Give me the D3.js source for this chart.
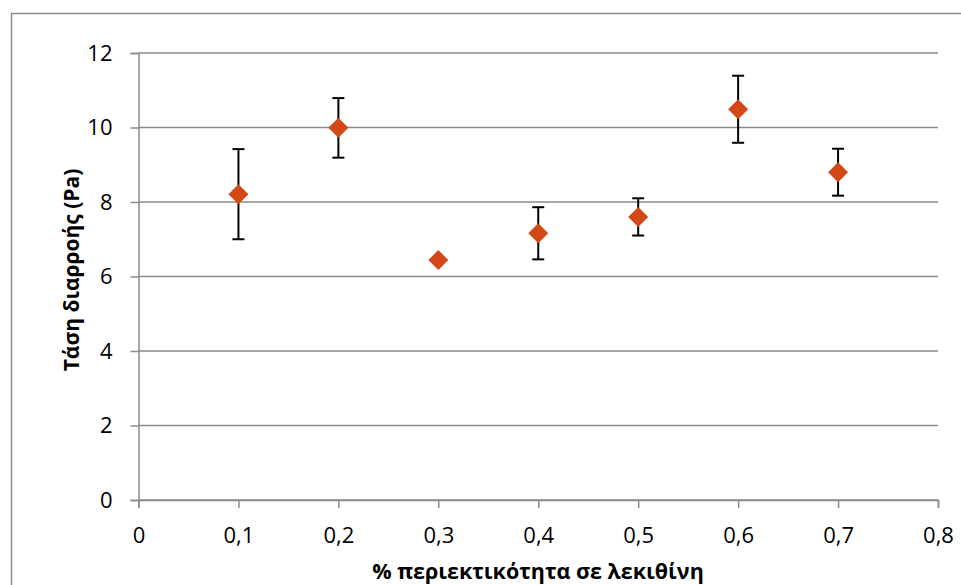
<!DOCTYPE html>
<html>
<head>
<meta charset="utf-8">
<script src="https://cdn.jsdelivr.net/npm/d3@7"></script>
<style>
  body { margin: 0; background: #fff; }
  text { font-family: "Open Sans", sans-serif; }
</style>
</head>
<body>
<div id="chart"></div>
<script>
// lecithin content (%) and yield stress (Pa) with error
var lecithin = [0.1, 0.2, 0.3, 0.4, 0.5, 0.6, 0.7];
var yieldStress = [8.21, 9.99, 6.44, 7.16, 7.60, 10.49, 8.80];
var stressErr = [1.21, 0.80, 0, 0.70, 0.50, 0.90, 0.63];
var xTicks = [0, 0.1, 0.2, 0.3, 0.4, 0.5, 0.6, 0.7, 0.8];
var yTicks = [0, 2, 4, 6, 8, 10, 12];

function main(){
  var W = 961, H = 585;
  var margin = {top: 53, right: 23, bottom: 85, left: 138.5},
      width = W - margin.left - margin.right,
      height = H - margin.top - margin.bottom;

  var root = d3.select("#chart").append("svg")
    .attr("width", W)
    .attr("height", H);

  // outer chart frame
  root.append("rect")
    .attr("x", 11.5).attr("y", 13.5)
    .attr("width", 960).attr("height", 600)
    .attr("fill", "none")
    .attr("stroke", "#8c8c8c")
    .attr("stroke-width", 1.5);

  var svg = root.append("g")
    .attr("transform", "translate(" + margin.left + "," + margin.top + ")");

  var x = d3.scaleLinear().domain([0, 0.8]).range([0, width]);
  var y = d3.scaleLinear().domain([0, 12]).range([height, 0]);

  // horizontal gridlines
  svg.append("g")
    .selectAll("line")
    .data(yTicks)
    .enter()
    .append("line")
      .attr("x1", 0).attr("x2", width)
      .attr("y1", function(d){ return y(d); })
      .attr("y2", function(d){ return y(d); })
      .attr("stroke", "#8a8a8a")
      .attr("stroke-width", 1.5);

  var fmt = function(d){ return String(d).replace(".", ","); };

  // y axis
  var gy = svg.append("g")
    .call(d3.axisLeft(y).tickValues(yTicks).tickSize(8).tickPadding(18).tickFormat(fmt));
  gy.select(".domain").attr("stroke", "#8a8a8a").attr("stroke-width", 1.5);
  gy.selectAll(".tick line").attr("stroke", "#8a8a8a").attr("stroke-width", 1.5);
  gy.selectAll(".tick text").attr("font-size", "22px").attr("fill", "#000")
    .style("font-family", "'Open Sans', sans-serif");

  // x axis
  var gx = svg.append("g")
    .attr("transform", "translate(0," + height + ")")
    .call(d3.axisBottom(x).tickValues(xTicks).tickSize(8).tickPadding(19).tickFormat(fmt));
  gx.select(".domain").attr("stroke", "#8a8a8a").attr("stroke-width", 1.5);
  gx.selectAll(".tick line").attr("stroke", "#8a8a8a").attr("stroke-width", 1.5);
  gx.selectAll(".tick text").attr("font-size", "22px").attr("fill", "#000")
    .style("font-family", "'Open Sans', sans-serif");

  // axis titles
  root.append("text")
    .attr("x", 538).attr("y", 579)
    .attr("text-anchor", "middle")
    .attr("font-size", "21.5px")
    .attr("font-weight", "bold")
    .text("% περιεκτικότητα σε λεκιθίνη");

  root.append("text")
    .attr("transform", "translate(79,270) rotate(-90)")
    .attr("text-anchor", "middle")
    .attr("font-size", "21px")
    .attr("font-weight", "bold")
    .text("Τάση διαρροής (Pa)");

  var data = lecithin.map(function(d, i){
    return {x: d, y: yieldStress[i], e: stressErr[i]};
  });

  // error bars
  var eb = svg.append("g")
    .selectAll("g")
    .data(data.filter(function(d){ return d.e > 0; }))
    .enter()
    .append("g")
      .attr("stroke", "#000")
      .attr("stroke-width", 2);
  eb.append("line")
    .attr("x1", function(d){ return x(d.x); })
    .attr("x2", function(d){ return x(d.x); })
    .attr("y1", function(d){ return y(d.y + d.e); })
    .attr("y2", function(d){ return y(d.y - d.e); });
  eb.append("line")
    .attr("x1", function(d){ return x(d.x) - 6; })
    .attr("x2", function(d){ return x(d.x) + 6; })
    .attr("y1", function(d){ return y(d.y + d.e); })
    .attr("y2", function(d){ return y(d.y + d.e); });
  eb.append("line")
    .attr("x1", function(d){ return x(d.x) - 6; })
    .attr("x2", function(d){ return x(d.x) + 6; })
    .attr("y1", function(d){ return y(d.y - d.e); })
    .attr("y2", function(d){ return y(d.y - d.e); });

  // diamond markers
  svg.append("g")
    .selectAll("path")
    .data(data)
    .enter()
    .append("path")
      .attr("transform", function(d){ return "translate(" + x(d.x) + "," + y(d.y) + ")"; })
      .attr("d", "M0,-10L10,0L0,10L-10,0Z")
      .attr("fill", "#d34817");
}
main();
</script>
</body>
</html>
